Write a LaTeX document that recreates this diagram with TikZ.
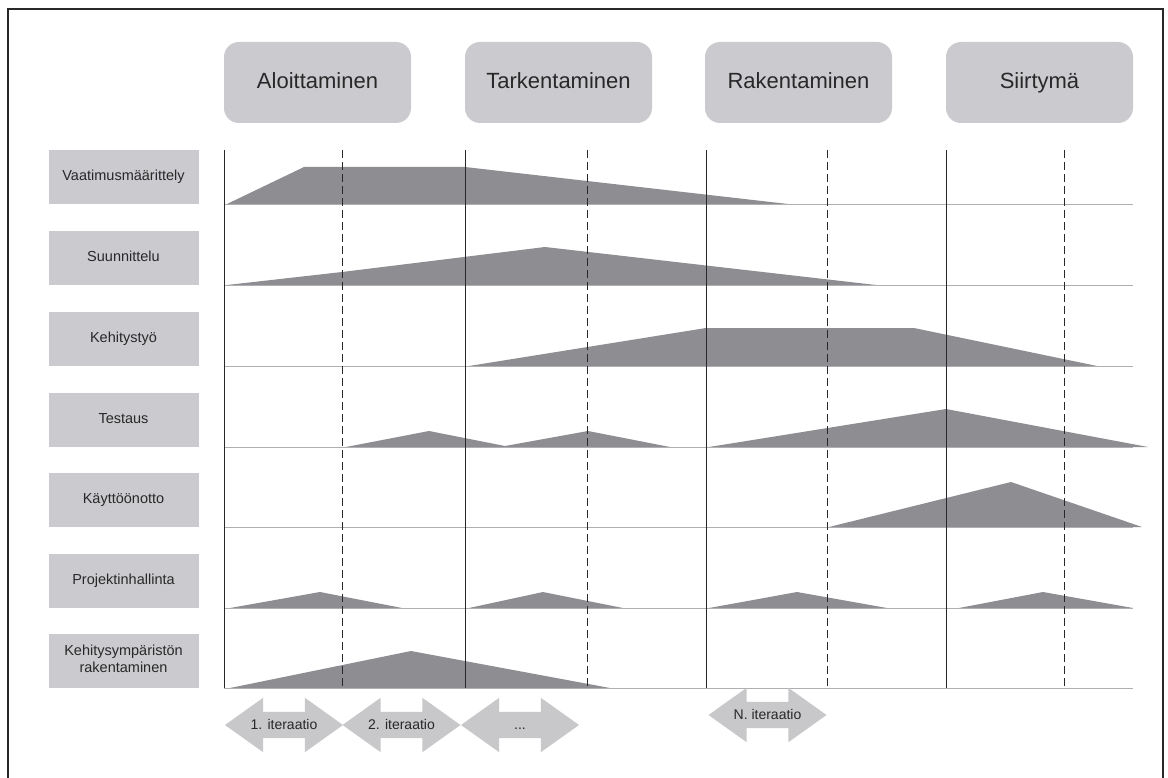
\documentclass[tikz,border=0pt]{standalone}
\usepackage{fontspec}
\setmainfont{Liberation Sans}
\usetikzlibrary{positioning, shapes.arrows}

\definecolor{boxgray}{RGB}{203,203,207}
\definecolor{humpgray}{RGB}{142,142,146}
\definecolor{arrowgray}{RGB}{200,200,202}
\definecolor{gridgray}{RGB}{175,175,178}
\definecolor{inkgray}{RGB}{40,40,40}

\begin{document}
\begin{tikzpicture}[x=1pt, y=-1pt,
  phasebox/.style={rounded corners=15pt, fill=boxgray, minimum width=187pt, minimum height=81pt, text height=16pt, text depth=4pt, text=inkgray, font=\fontsize{22}{26}\selectfont},
  taskbox/.style={fill=boxgray, minimum width=150pt, minimum height=54pt, align=center, text=inkgray, font=\fontsize{14.5}{17}\selectfont},
  hump/.style={fill=humpgray},
  iterarrow/.style={double arrow, fill=arrowgray, minimum height=118pt, minimum width=54pt, double arrow head extend=14pt, double arrow tip angle=71, inner sep=0pt, text height=17pt, text depth=9pt, text=inkgray, font=\fontsize{14}{16}\selectfont}]
\useasboundingbox (0, 0) rectangle (1168, 778);
\fill[white] (0, 0) rectangle (1168, 778);
\draw[inkgray, line width=1.2pt] (8, 778) -- (8, 9) -- (1163, 9) -- (1163, 778);

% vaiheet
\node[phasebox] (aloit) at (317.5, 82.5) {Aloittaminen};
\node[phasebox] (tarke) at (558.5, 82.5) {Tarkentaminen};
\node[phasebox] (raken) at (798.5, 82.5) {Rakentaminen};
\node[phasebox] (siirt) at (1039.5, 82.5) {Siirtymä};

% tehtävät
\node[taskbox] (vaat) at (123.5, 177) {\strut Vaatimusmäärittely};
\node[taskbox] (suun) at (123.5, 258) {\strut Suunnittelu};
\node[taskbox] (kehi) at (123.5, 339) {\strut Kehitystyö};
\node[taskbox] (test) at (123.5, 420) {\strut Testaus};
\node[taskbox] (kayt) at (123.5, 500) {\strut Käyttöönotto};
\node[taskbox] (proj) at (123.5, 581) {\strut Projektinhallinta};
\node[taskbox] (ympa) at (123.5, 661) {\strut Kehitysympäristön\\\strut rakentaminen};

% kuormat
\fill[hump] (227, 204) -- (304, 167) -- (465, 167) -- (788, 204) -- cycle;
\fill[hump] (227, 285) -- (342, 272) -- (545, 247) -- (876, 285) -- cycle;
\fill[hump] (469, 366) -- (706, 328) -- (914, 328) -- (1097, 366) -- cycle;
\fill[hump] (346, 447) -- (429, 431) -- (505, 446) -- (588, 431) -- (670, 447) -- cycle;
\fill[hump] (709, 447) -- (946, 409) -- (1148, 447) -- cycle;
\fill[hump] (829, 527) -- (1011, 482) -- (1142, 527) -- cycle;
\fill[hump] (230, 608) -- (320, 592) -- (402, 608) -- cycle;
\fill[hump] (469, 608) -- (543, 592) -- (623, 608) -- cycle;
\fill[hump] (709, 608) -- (797, 592) -- (887, 608) -- cycle;
\fill[hump] (959, 608) -- (1043, 592) -- (1133, 608) -- cycle;
\fill[hump] (230, 688) -- (411, 651) -- (610, 688) -- cycle;

\foreach \y in {204, 285, 366, 447, 527, 608, 688}
  \draw[gridgray, line width=0.8pt] (224, \y) -- (1133, \y);
\foreach \x in {224, 465, 706, 946}
  \draw[inkgray, line width=1pt] (\x, 150) -- (\x, 688);
\foreach \x in {342, 587, 827, 1064}
  \draw[inkgray, line width=0.8pt, dash pattern=on 8pt off 4pt] (\x, 150) -- (\x, 688);

% iteraatiot
\node[iterarrow] (iter1) at (284, 725) {1. iteraatio};
\node[iterarrow] (iter2) at (401.5, 725) {2. iteraatio};
\node[iterarrow] (iter3) at (520, 725) {...};
\node[iterarrow] (iterN) at (767.5, 715) {N. iteraatio};

\end{tikzpicture}
\end{document}
